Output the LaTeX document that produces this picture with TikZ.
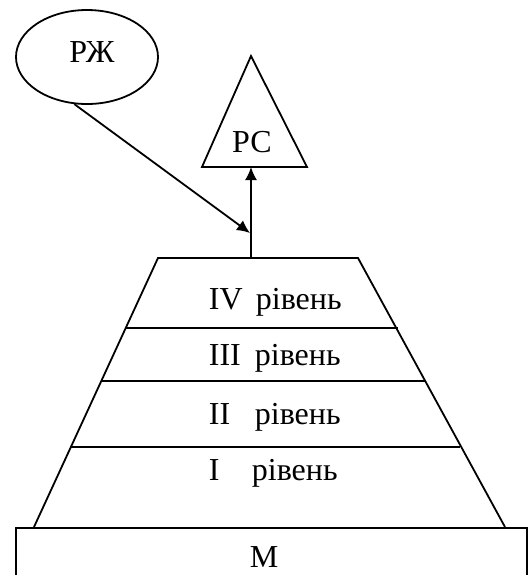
\documentclass[tikz,border=0pt]{standalone}
\usepackage{fontspec}
\setmainfont{Liberation Serif}
\usetikzlibrary{positioning,arrows.meta,shapes.geometric}

\begin{document}
\begin{tikzpicture}[x=0.5pt, y=-0.5pt, >={Latex[length=6.5pt,width=6pt]}, line width=0.9pt,
    font=\fontsize{16}{19}\selectfont,
    lvl/.style={anchor=west, inner sep=0pt}]
  \useasboundingbox (0,0) rectangle (532,575);
  \node[draw, ellipse, minimum width=71pt, minimum height=47pt, inner sep=0pt] (rzh) at (87,57) {};
  \node (rzhtxt) at (92,52) {РЖ};
  % triangle
  \coordinate (rstop) at (251,56);
  \coordinate (rsleft) at (202,167);
  \coordinate (rsright) at (307,167);
  \draw (rstop) -- (rsright) -- (rsleft) -- cycle;
  \node (rs) at (252,142) {РС};
  \coordinate (rsbase) at (251,167);
  % pyramid
  \coordinate (ptl) at (158,258);
  \coordinate (ptr) at (358,258);
  \coordinate (pbl) at (34,527);
  \coordinate (pbr) at (505,527);
  \coordinate (pmid) at (251,258);
  \draw (pbl) -- (ptl) -- (ptr) -- (pbr);
  \draw (126,328) -- (398,328);
  \draw (101,381) -- (425,381);
  \draw (71,447) -- (460,447);
  \node[lvl] (l4) at (208,302) {\makebox[23.5pt][l]{IV}рівень};
  \node[lvl] (l3) at (208,358) {\makebox[23pt][l]{III}рівень};
  \node[lvl] (l2) at (208,417) {\makebox[23pt][l]{II}рівень};
  \node[lvl] (l1) at (208,473) {\makebox[21.5pt][l]{I}рівень};
  % base
  \draw (16,528) rectangle (527,577);
  \node (m) at (264,557) {М};
  % arrows
  \coordinate (jn) at (250,233);
  \draw[->] (pmid) -- (rsbase);
  \draw[->] (rzh.-105) -- (jn);
\end{tikzpicture}
\end{document}
